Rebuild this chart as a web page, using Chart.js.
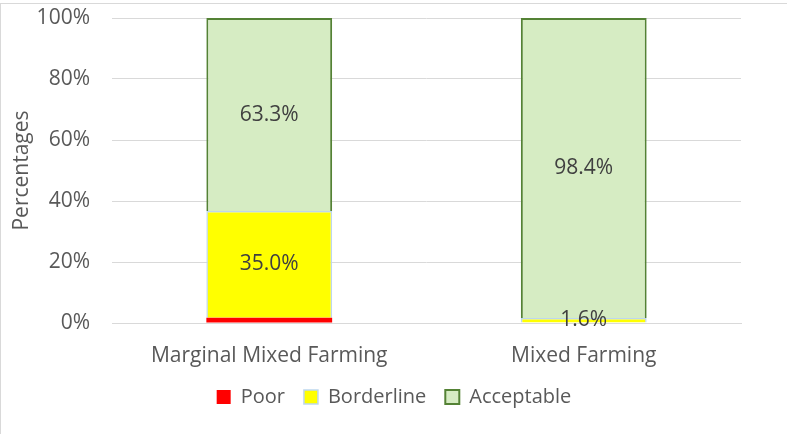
<!DOCTYPE html>
<html>
<head>
<meta charset="utf-8">
<script src="https://cdn.jsdelivr.net/npm/chart.js@4/dist/chart.umd.min.js"></script>
<style>
  html, body { margin: 0; padding: 0; background: #fff; overflow: hidden; }
  #wrap { position: relative; width: 787px; height: 431px; box-sizing: border-box;
          border-left: 1px solid #d9d9d9; border-top: 1px solid #d9d9d9; margin-top: 3px; }
  canvas { display: block; }
</style>
</head>
<body>
<div id="wrap"><canvas id="chart" width="786" height="430"></canvas></div>
<script>
const categories = ["Marginal Mixed Farming", "Mixed Farming"];
const poor = [1.7, 0];
const borderline = [35.0, 1.6];
const acceptable = [63.3, 98.4];
const yTicks = [0, 20, 40, 60, 80, 100];

const FONT = "'Open Sans'";
const FS = 21;

// draws the % values in the middle of each segment (Poor is not labelled)
const barLabels = {
  id: "barLabels",
  afterDatasetsDraw(chart) {
    const ctx = chart.ctx;
    ctx.save();
    ctx.font = FS + "px " + FONT;
    ctx.fillStyle = "#404040";
    ctx.textAlign = "center";
    ctx.textBaseline = "middle";
    chart.data.datasets.forEach((ds, i) => {
      if (ds.label === "Poor") return;
      chart.getDatasetMeta(i).data.forEach((bar, j) => {
        const v = ds.data[j];
        if (!v) return;
        const y = (bar.y + bar.base) / 2;
        ctx.fillText(v.toFixed(1) + "%", bar.x, y);
      });
    });
    ctx.restore();
  }
};

new Chart(document.getElementById("chart"), {
  type: "bar",
  data: {
    labels: categories,
    datasets: [
      { label: "Poor", data: poor, backgroundColor: "#ff0000", borderColor: "#ff0000", borderWidth: 0 },
      { label: "Borderline", data: borderline, backgroundColor: "#ffff00", borderColor: "#bdd7ee", borderWidth: 1.5 },
      { label: "Acceptable", data: acceptable, backgroundColor: "#d6ecc3", borderColor: "#548235", borderWidth: 2 }
    ]
  },
  options: {
    responsive: false,
    animation: false,
    devicePixelRatio: 1,
    categoryPercentage: 0.8,
    barPercentage: 0.5,
    layout: { padding: { left: 0, right: 0, top: 14, bottom: 17 } },
    plugins: {
      tooltip: { enabled: false },
      legend: {
        position: "bottom",
        labels: {
          font: { family: FONT, size: 20 },
          color: "#595959",
          boxWidth: 14,
          boxHeight: 14,
          padding: 19
        }
      }
    },
    scales: {
      x: {
        stacked: true,
        grid: { display: false },
        border: { color: "#d9d9d9" },
        ticks: { font: { family: FONT, size: FS }, color: "#595959", padding: 12, maxRotation: 0 },
        afterFit(s) { s.height = 45; s.paddingLeft = 0; s.paddingRight = 46; }
      },
      y: {
        stacked: true,
        min: 0,
        max: 100,
        afterBuildTicks(s) { s.ticks = yTicks.map(v => ({ value: v })); },
        grid: { color: "#d9d9d9", drawTicks: false },
        border: { display: false },
        ticks: {
          font: { family: FONT, size: FS },
          color: "#595959",
          padding: 22,
          callback: v => v + "%"
        },
        title: {
          display: true,
          text: "Percentages",
          font: { family: FONT, size: FS },
          color: "#595959",
          padding: { top: 8, bottom: 0 }
        },
        afterFit(s) { s.width = 111; s.paddingTop = 0; s.paddingBottom = 0; }
      }
    }
  },
  plugins: [barLabels]
});
</script>
</body>
</html>
